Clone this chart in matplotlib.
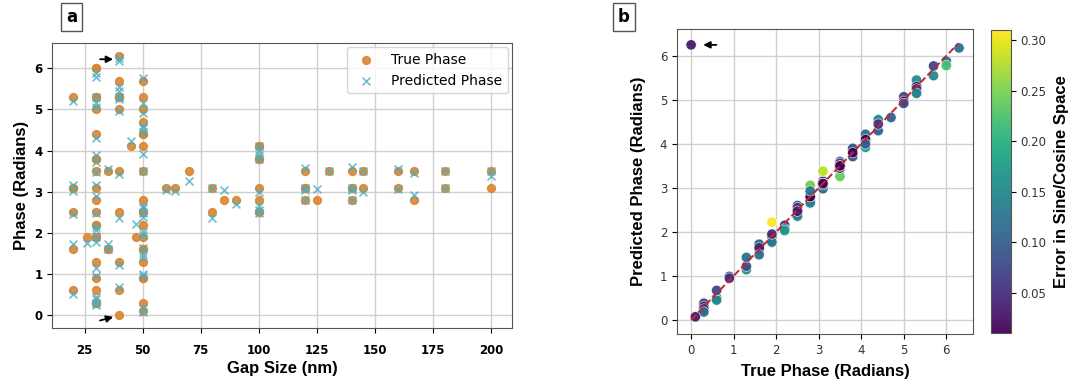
import numpy as np
import matplotlib.pyplot as plt

#%% Data
gap_nm = [20, 20, 20, 20, 20, 20,
          26,
          30, 30, 30, 30, 30, 30, 30, 30, 30, 30, 30, 30, 30, 30, 30, 30, 30, 30, 30, 30, 30, 30,
          35, 35, 35,
          40, 40, 40, 40, 40, 40, 40, 40, 40, 40, 40,
          45, 47,
          50, 50, 50, 50, 50, 50, 50, 50, 50, 50, 50, 50, 50, 50, 50, 50, 50, 50, 50, 50, 50,
          60, 64, 70, 80, 80, 85, 90,
          100, 100, 100, 100, 100, 100, 100, 100,
          120, 120, 120, 120, 125, 130,
          140, 140, 140, 140, 145, 145,
          160, 160, 167, 167, 180, 180, 200, 200]
true_phase = [5.3, 3.1, 3.1, 2.5, 1.6, 0.6,
              1.9,
              6.0, 6.0, 5.3, 5.0, 5.3, 4.4, 3.8, 3.8, 3.5, 3.1, 2.8, 2.5, 2.2, 2.2, 1.9, 1.9, 1.3, 0.9, 0.6, 0.3, 0.3, 0.3,
              3.5, 1.6, 1.6,
              6.3, 0.0, 5.7, 5.3, 5.3, 5.3, 5.0, 3.5, 2.5, 1.3, 0.6,
              4.1, 1.9,
              5.7, 5.3, 5.0, 4.7, 4.4, 4.4, 4.1, 3.5, 2.8, 2.5, 2.5, 2.5, 2.2, 1.9, 1.6, 1.6, 1.3, 0.9, 0.9, 0.3, 0.1,
              3.1, 3.1, 3.5, 3.1, 2.5, 2.8, 2.8,
              4.1, 4.1, 3.8, 3.8, 3.1, 2.8, 2.5, 2.5,
              3.5, 3.1, 3.1, 2.8, 2.8, 3.5,
              3.5, 3.1, 3.1, 2.8, 3.5, 3.1,
              3.5, 3.1, 3.5, 2.8, 3.5, 3.1, 3.5, 3.1]
pred_phase = [5.2, 3.15, 3.02, 2.45, 1.72, 0.5,
              1.76,
              5.88, 5.78, 5.15, 5.07, 5.3, 4.3, 3.88, 3.71, 3.48, 3.15, 2.9, 2.48, 2.15, 2.07, 1.9, 1.77, 1.14, 0.95, 0.45, 0.38, 0.3, 0.25,
              3.55, 1.72, 1.6,
              6.18, 6.25, 5.55, 5.45, 5.3, 5.25, 4.97, 3.42, 2.35, 1.22, 0.67,
              4.22, 2.22,
              5.77, 5.15, 4.92, 4.6, 4.55, 4.45, 3.92, 3.5, 2.65, 2.6, 2.48, 2.38, 2.03, 1.95, 1.64, 1.48, 1.42, 0.99, 0.95, 0.18, 0.07,
              3.03, 3.02, 3.26, 3.1, 2.36, 3.03, 2.7,
              4.1, 4.0, 3.9, 3.8, 3.0, 2.66, 2.55, 2.47,
              3.57, 3.1, 3.05, 2.8, 3.06, 3.5,
              3.6, 3.1, 3.04, 2.8, 3.5, 2.98,
              3.56, 3.07, 3.45, 2.93, 3.5, 3.1, 3.5, 3.38]
err = [0.10, 0.05, 0.08, 0.05, 0.12, 0.10,
       0.14,
       0.12, 0.22, 0.15, 0.07, 0.01, 0.10, 0.08, 0.09, 0.02, 0.05, 0.10, 0.02, 0.05, 0.13, 0.01, 0.13, 0.16, 0.05, 0.15, 0.08, 0.01, 0.05,
       0.05, 0.12, 0.01,
       0.12, 0.03, 0.15, 0.15, 0.01, 0.05, 0.03, 0.08, 0.15, 0.08, 0.07,
       0.12, 0.31,
       0.07, 0.15, 0.08, 0.10, 0.15, 0.05, 0.18, 0.01, 0.15, 0.10, 0.02, 0.12, 0.17, 0.05, 0.04, 0.12, 0.12, 0.09, 0.05, 0.12, 0.03,
       0.07, 0.08, 0.24, 0.01, 0.14, 0.23, 0.10,
       0.01, 0.10, 0.10, 0.01, 0.10, 0.14, 0.05, 0.03,
       0.07, 0.01, 0.05, 0.01, 0.25, 0.01,
       0.10, 0.01, 0.06, 0.01, 0.01, 0.12,
       0.06, 0.03, 0.05, 0.13, 0.01, 0.01, 0.01, 0.28]

#%% Figure
fig = plt.figure(figsize=(10.73, 3.87), dpi=100)
ax1 = fig.add_axes([0.0485, 0.1525, 0.4287, 0.7364])
ax2 = fig.add_axes([0.631, 0.137, 0.2759, 0.788])
cax = fig.add_axes([0.9236, 0.1395, 0.0186, 0.783])

lab_font = dict(family='Liberation Sans', fontsize=12, fontweight='bold')

#%% Panel a
ax1.scatter(gap_nm, true_phase, s=32, color='#db8430', alpha=0.9, label='True Phase', zorder=3)
ax1.scatter(gap_nm, pred_phase, s=32, marker='x', color='#4aaebf', alpha=0.8, linewidths=1.2,
            label='Predicted Phase', zorder=4)
ax1.grid(True, color='#d0d0d0', linewidth=1.0)
ax1.set_axisbelow(True)
ax1.set_xticks([25, 50, 75, 100, 125, 150, 175, 200])
ax1.set_yticks([0, 1, 2, 3, 4, 5, 6])
ax1.tick_params(axis='x', pad=8)
for lab in ax1.get_xticklabels() + ax1.get_yticklabels():
    lab.set_fontweight('bold')
    lab.set_fontsize(8.5)
ax1.set_xlabel('Gap Size (nm)', labelpad=3, **lab_font)
ax1.set_ylabel('Phase (Radians)', **lab_font)
ax1.legend(loc='upper right', fontsize=10, borderaxespad=0.3)
ax1.annotate('', xy=(38.5, 6.22), xytext=(30.5, 6.22),
             arrowprops=dict(arrowstyle='-|>', color='black', lw=1.3))
ax1.annotate('', xy=(38.5, -0.03), xytext=(30.5, -0.15),
             arrowprops=dict(arrowstyle='-|>', color='black', lw=1.3))
for sp in ax1.spines.values():
    sp.set_color('#555555')

#%% Panel b
sc = ax2.scatter(true_phase, pred_phase, c=err, cmap='viridis', s=55, edgecolors='white',
                 linewidths=0.4, alpha=0.95, zorder=3)
ax2.plot([0, 2 * np.pi], [0, 2 * np.pi], '--', color='#c0282d', lw=1.4, zorder=4)
ax2.grid(True, color='#d0d0d0', linewidth=1.0)
ax2.set_axisbelow(True)
ax2.set_xlim(-0.33, 6.63)
ax2.set_ylim(-0.32, 6.61)
ax2.set_xticks([0, 1, 2, 3, 4, 5, 6])
ax2.set_yticks([0, 1, 2, 3, 4, 5, 6])
ax2.tick_params(labelsize=8.5, labelcolor='#333333')
ax2.set_xlabel('True Phase (Radians)', labelpad=5, **lab_font)
ax2.set_ylabel('Predicted Phase (Radians)', labelpad=10, **lab_font)
ax2.annotate('', xy=(0.22, 6.25), xytext=(0.66, 6.25),
             arrowprops=dict(arrowstyle='-|>', color='black', lw=1.3))
for sp in ax2.spines.values():
    sp.set_color('#555555')

cb = fig.colorbar(sc, cax=cax)
cb.set_ticks([0.05, 0.10, 0.15, 0.20, 0.25, 0.30])
cb.ax.tick_params(labelsize=8.5, labelcolor='#333333')
cb.set_label('Error in Sine/Cosine Space', labelpad=5, **lab_font)
cb.outline.set_edgecolor('#555555')

#%% Panel letters
box = dict(boxstyle='square,pad=0.3', facecolor='white', edgecolor='#555555', linewidth=1)
fig.text(0.067, 0.957, 'a', fontsize=12, fontweight='bold', ha='center', va='center', bbox=box)
fig.text(0.5815, 0.957, 'b', fontsize=12, fontweight='bold', ha='center', va='center', bbox=box)

fig.savefig('out.png', dpi=100)
